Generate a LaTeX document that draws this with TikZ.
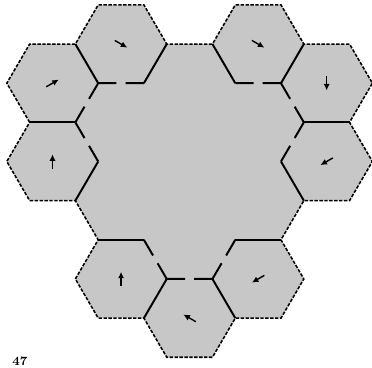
\documentclass[tikz,border=0pt]{standalone}
\usetikzlibrary{calc,arrows.meta}
\newcommand{\mur}[2]{\draw[plein] (#1) -- (#2)}
\newcommand{\porte}[2]{\draw[plein] (#1) -- ($(#1)!0.4!(#2)$) ($(#1)!0.6!(#2)$) -- (#2)}
\newcommand{\fleche}[2]{\draw[fl] (#1) ++(#2+180:0.18cm) -- ++(#2:0.36cm)}

\begin{document}
\begin{tikzpicture}[x=0.5712cm,y=0.97875cm,
	plein/.style={line width=1.4pt},
	tirets/.style={line width=1.1pt,dash pattern=on 2.4pt off 1.1pt},
	fl/.style={line width=1pt,-{Latex[length=4.6pt,width=4.4pt]}}]
	\useasboundingbox (-2.2976,-5.249) rectangle (13.983,4.125);
	\draw[tirets,fill=black!22] (-1,1) -- (-2,2) -- (-1,3) -- (1,3) -- (2,4) -- (4,4) -- (5,3) -- (7,3) -- (8,4) -- (10,4) -- (11,3) -- (13,3) -- (14,2) -- (13,1) -- (14,0) -- (13,-1) -- (11,-1) -- (10,-2) -- (11,-3) -- (10,-4) -- (8,-4) -- (7,-5) -- (5,-5) -- (4,-4) -- (2,-4) -- (1,-3) -- (2,-2) -- (1,-1) -- (-1,-1) -- (-2,0) -- cycle;
	\mur{-1,1}{1,1};
	\mur{1,3}{2,2};
	\mur{4,2}{5,3};
	\mur{7,3}{8,2};
	\mur{11,3}{10,2};
	\mur{13,1}{11,1};
	\mur{10,0}{11,-1};
	\mur{10,-2}{8,-2};
	\mur{8,-4}{7,-3};
	\mur{5,-3}{4,-4};
	\mur{4,-2}{2,-2};
	\mur{1,-1}{2,0};
	\porte{2,2}{4,2};
	\porte{1,1}{2,2};
	\porte{2,0}{1,1};
	\porte{8,2}{10,2};
	\porte{10,2}{11,1};
	\porte{11,1}{10,0};
	\porte{8,-2}{7,-3};
	\porte{7,-3}{5,-3};
	\porte{5,-3}{4,-2};
	\fleche{0,2}{30};
	\fleche{0,0}{90};
	\fleche{3,3}{-30};
	\fleche{9,3}{-30};
	\fleche{12,2}{-90};
	\fleche{12,0}{210};
	\fleche{9,-3}{210};
	\fleche{6,-4}{150};
	\fleche{3,-3}{90};
	\node[anchor=south west,inner sep=0pt,font=\small\bfseries] (numero) at (-1.77,-5.22) {47};
\end{tikzpicture}
\end{document}
